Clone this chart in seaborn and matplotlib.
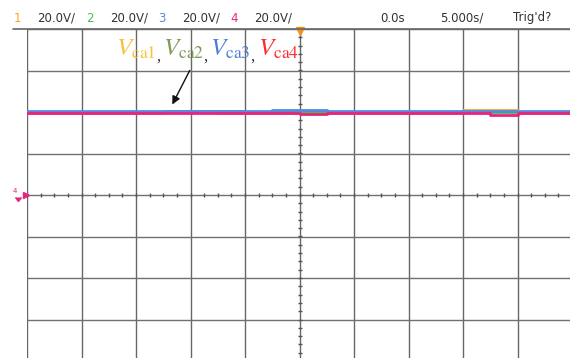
import numpy as np
import pandas as pd
import matplotlib
matplotlib.use("Agg")
import matplotlib.pyplot as plt
import seaborn as sns

# ---- data (divisions) ----
time_div = [0, 0.5, 1, 1.5, 2, 2.5, 3, 3.5, 4, 4.5, 5, 5.5, 6, 6.5, 7, 7.5, 8, 8.5, 9, 9.5, 10]
ch1 = [1.98, 1.98, 1.98, 1.98, 1.98, 1.99, 1.99, 1.98, 1.98, 1.98, 1.98, 1.98, 1.97, 1.98, 1.98, 1.98, 2.04, 2.04, 1.98, 1.98, 1.98]
ch2 = [1.99, 1.99, 1.99, 2.00, 2.01, 2.03, 2.03, 2.02, 1.99, 1.99, 1.99, 1.99, 1.99, 1.99, 1.99, 1.99, 1.99, 1.99, 1.99, 1.99, 1.99]
ch3 = [2.02, 2.02, 2.02, 2.03, 2.03, 2.02, 2.02, 2.02, 2.02, 2.06, 2.06, 2.03, 2.02, 2.02, 2.02, 2.02, 2.02, 2.02, 2.02, 2.02, 2.02]
ch4 = [1.98, 1.98, 1.98, 1.98, 1.98, 1.98, 1.98, 1.98, 1.98, 1.98, 1.94, 1.98, 1.98, 1.98, 1.97, 1.98, 1.98, 1.93, 1.98, 1.98, 1.98]
channels = ["1", "2", "3", "4"]
ch_colors = ["#F5A623", "#44C04A", "#5A85E0", "#E8237E"]
scale_labels = ["20.0V/", "20.0V/", "20.0V/", "20.0V/"]
time_labels = ["0.0s", "5.000s/", "Trig'd?"]
labels = ["ca1", "ca2", "ca3", "ca4"]
label_colors = ["#F7C23A", "#7E9A55", "#4C7ED6", "#FF2A2A"]

df = pd.DataFrame({
    "t": time_div * 4,
    "v": ch1 + ch2 + ch3 + ch4,
    "ch": sum([[c] * len(time_div) for c in channels], []),
})

sns.set_style("white")
plt.rcParams["mathtext.fontset"] = "stix"
W, H = 570, 358
fig = plt.figure(figsize=(W / 100, H / 100), dpi=100)
# axes box: left 27px, right 572px, top 29px, bottom 361px
ax = fig.add_axes([27 / W, 1 - 361 / H, 545 / W, 332 / H])
ax.set_xlim(0, 10)
ax.set_ylim(-4, 4)
for sp in ax.spines.values():
    sp.set_visible(False)
ax.set_xticks([])
ax.set_yticks([])
for x in range(0, 11):
    ax.axvline(x, color="#666666", lw=1.0, zorder=1)
for y in range(-4, 5):
    ax.axhline(y, color="#707070", lw=1.0, zorder=1)

# centre axis minor ticks
mt = np.arange(-4, 4.01, 0.2)
ax.plot(np.full_like(mt, 5.0), mt, ls="none", marker="_", ms=3.5, mew=1.0, color="#555555", zorder=2)
mx = np.arange(0, 10.01, 0.25)
ax.plot(mx, np.zeros_like(mx), ls="none", marker="|", ms=3.5, mew=1.0, color="#555555", zorder=2)

sns.lineplot(data=df, x="t", y="v", hue="ch", palette=dict(zip(channels, ch_colors)),
             drawstyle="steps-post", lw=2.0, legend=False, ax=ax, zorder=3)
ax.set_xlabel("")
ax.set_ylabel("")

# trigger marker
ax.plot([5], [3.95], marker="v", ms=6, color="#F5921E", clip_on=False, zorder=4)
# ground marker channel 4
fig.text(15 / W, 1 - 191 / H, "4", color="#E8237E", fontsize=5, ha="center", va="center")
ax.plot([-0.02], [0.0], marker=">", ms=4, color="#E8237E", clip_on=False, zorder=4)
ax.plot([-0.16], [-0.14], marker=7, ms=4, color="#E8237E", clip_on=False, zorder=4)

# header separator
fig.add_artist(plt.Line2D([13 / W, 1.0], [1 - 28.5 / H, 1 - 28.5 / H], color="#666666", lw=1.2))

# header text
hx = [17, 90, 162, 234]
for i in range(4):
    fig.text(hx[i] / W, 1 - 18 / H, channels[i], color=ch_colors[i], fontsize=8.5, ha="center", va="center")
    fig.text((hx[i] + 20) / W, 1 - 18 / H, scale_labels[i], color="#333333", fontsize=8.5, ha="left", va="center")
for s, x in zip(time_labels, [380, 440, 513]):
    fig.text(x / W, 1 - 18 / H, s, color="#333333", fontsize=8.5, ha="left", va="center")

# annotation labels
lx = [116, 163, 210, 258]
for i in range(4):
    fig.text(lx[i] / W, 1 - 56 / H, r"$V_{\mathrm{%s}}$" % labels[i], color=label_colors[i],
             fontsize=18, ha="left", va="baseline")
    if i < 3:
        fig.text((lx[i] + 40) / W, 1 - 61 / H, ",", color="#333333", fontsize=12,
                 family="Liberation Serif", ha="left", va="baseline")

ax.annotate("", xy=(171 / W, 1 - 107 / H), xytext=(191 / W, 1 - 68 / H),
            xycoords="figure fraction", textcoords="figure fraction",
            arrowprops=dict(arrowstyle="-|>", color="#111111", lw=1.0, mutation_scale=12))

fig.savefig("out.png", dpi=100)
